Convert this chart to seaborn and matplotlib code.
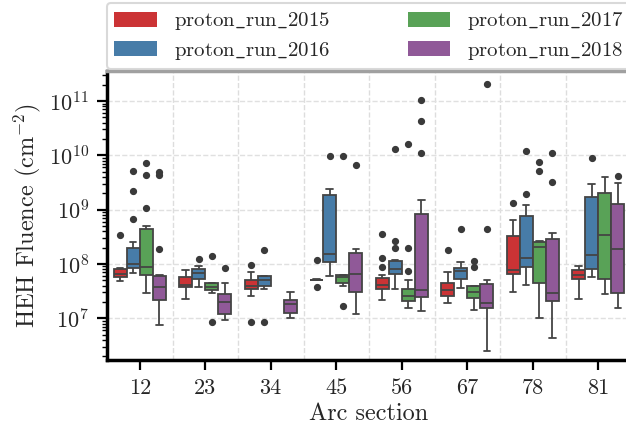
import numpy as np
import pandas as pd
import matplotlib
matplotlib.use("Agg")
import matplotlib.pyplot as plt
import seaborn as sns

arcs = ["12", "23", "34", "45", "56", "67", "78", "81"]
runs = ["proton_run_2015", "proton_run_2016", "proton_run_2017", "proton_run_2018"]

fluence_2015 = {
    "12": [4.9e7, 5.3e7, 5.7e7, 6.1e7, 6.5e7, 7.2e7, 8.0e7, 8.55e7, 3.4e8],
    "23": [2.24e7, 3.7e7, 4.1e7, 5.7e7, 7.7e7],
    "34": [8.65e6, 2.6e7, 3.5e7, 3.75e7, 4.0e7, 4.5e7, 5.05e7, 7.2e7, 9.6e7],
    "45": [3.77e7, 5.0e7, 5.05e7, 5.08e7, 5.12e7, 5.15e7, 5.18e7, 5.2e7, 1.2e8],
    "56": [2.2e7, 2.6e7, 2.9e7, 3.2e7, 3.42e7, 3.6e7, 3.8e7, 4.0e7, 4.16e7,
           4.4e7, 4.8e7, 5.1e7, 5.46e7, 6.3e7, 8.8e7, 1.31e8, 3.52e8],
    "67": [1.94e7, 2.3e7, 2.61e7, 2.95e7, 3.32e7, 3.9e7, 4.42e7, 7.0e7, 1.79e8],
    "78": [3.09e7, 4.8e7, 6.46e7, 7.0e7, 7.74e7, 1.6e8, 3.28e8, 6.46e8, 1.31e9],
    "81": [2.24e7, 5.36e7, 6.27e7, 7.74e7, 9.18e7],
}
fluence_2016 = {
    "12": [6.7e7, 7.3e7, 7.8e7, 8.2e7, 8.6e7, 9.0e7, 9.4e7, 9.8e7, 1.01e8,
           1.2e8, 1.45e8, 1.7e8, 1.95e8, 2.5e8, 6.7e8, 2.2e9, 5.2e9],
    "23": [3.8e7, 4.6e7, 5.4e7, 6.1e7, 6.75e7, 7.4e7, 8.0e7, 9.2e7, 1.22e8],
    "34": [8.65e6, 3.42e7, 4.0e7, 4.6e7, 5.07e7, 5.6e7, 6.0e7, 6.1e7, 1.79e8],
    "45": [6.0e7, 8.5e7, 1.07e8, 1.3e8, 1.51e8, 6.0e8, 1.87e9, 2.4e9, 9.75e9],
    "56": [3.42e7, 4.5e7, 5.3e7, 6.0e7, 6.5e7, 7.0e7, 7.5e7, 7.9e7, 8.18e7,
           9.0e7, 1.0e8, 1.08e8, 1.13e8, 1.19e8, 2.0e8, 2.65e8, 1.29e10],
    "67": [3.61e7, 4.4e7, 5.22e7, 6.5e7, 7.5e7, 7.9e7, 8.34e7, 1.1e8, 4.47e8],
    "78": [4.1e7, 5.5e7, 7.0e7, 8.69e7, 1.0e8, 1.15e8, 1.31e8, 2.5e8, 4.5e8,
           7.76e8, 1.2e9, 1.95e9, 1.2e10],
    "81": [5.69e7, 7.0e7, 8.19e7, 1.1e8, 1.45e8, 6.0e8, 1.73e9, 2.97e9, 9.08e9],
}
fluence_2017 = {
    "12": [2.9e7, 4.0e7, 5.0e7, 5.7e7, 6.3e7, 7.0e7, 7.8e7, 8.4e7, 8.9e7,
           1.5e8, 2.5e8, 3.5e8, 4.35e8, 5.07e8, 1.09e9, 4.3e9, 7.3e9],
    "23": [8.55e6, 2.9e7, 3.3e7, 3.55e7, 3.8e7, 4.1e7, 4.4e7, 4.45e7, 1.4e8],
    "34": [],
    "45": [1.69e7, 3.98e7, 4.45e7, 5.2e7, 5.84e7, 6.0e7, 6.2e7, 6.3e7, 9.9e9],
    "56": [1.53e7, 1.7e7, 1.85e7, 1.95e7, 2.08e7, 2.2e7, 2.35e7, 2.45e7, 2.58e7,
           2.8e7, 3.0e7, 3.3e7, 3.51e7, 5.07e7, 7.5e7, 2.0e8, 1.6e10],
    "67": [1.42e7, 1.8e7, 2.1e7, 2.39e7, 2.6e7, 2.85e7, 3.09e7, 3.4e7, 3.7e7,
           3.94e7, 4.0e7, 8.8e7, 1.12e8],
    "78": [1.0e7, 2.0e7, 3.2e7, 4.53e7, 8.0e7, 1.4e8, 2.03e8, 2.2e8, 2.4e8,
           2.58e8, 2.6e8, 5.1e9, 7.46e9],
    "81": [2.8e7, 5.3e7, 3.42e8, 2.0e9, 4.06e9],
}
fluence_2018 = {
    "12": [7.6e6, 1.2e7, 1.6e7, 1.9e7, 2.17e7, 2.6e7, 3.0e7, 3.4e7, 3.8e7,
           4.4e7, 5.0e7, 5.6e7, 6.0e7, 6.35e7, 1.89e8, 4.35e9, 5.0e9],
    "23": [9.3e6, 1.05e7, 1.19e7, 1.6e7, 2.02e7, 2.4e7, 2.8e7, 4.5e7, 8.3e7],
    "34": [1.03e7, 1.24e7, 1.87e7, 2.17e7, 3.01e7],
    "45": [1.19e7, 2.0e7, 3.01e7, 4.5e7, 6.46e7, 1.0e8, 1.57e8, 1.87e8, 6.6e9],
    "56": [1.38e7, 1.6e7, 1.9e7, 2.2e7, 2.44e7, 2.7e7, 2.9e7, 3.1e7, 3.32e7,
           8.0e7, 2.0e8, 5.0e8, 8.2e8, 1.49e9, 1.09e10, 4.3e10, 1.06e11],
    "67": [2.5e6, 7.0e6, 1.1e7, 1.53e7, 1.7e7, 1.8e7, 1.94e7, 2.6e7, 3.5e7,
           4.29e7, 5.07e7, 4.4e8, 2.09e11],
    "78": [4.4e6, 1.0e7, 1.5e7, 2.08e7, 2.4e7, 2.7e7, 2.96e7, 8.0e7, 1.8e8,
           2.85e8, 3.67e8, 3.28e9, 1.12e10],
    "81": [1.53e7, 2.2e7, 2.88e7, 8.0e7, 1.91e8, 7.0e8, 1.26e9, 3.06e9, 4.12e9],
}
legend_labels = [r"$\mathrm{proton\_run\_2015}$", r"$\mathrm{proton\_run\_2016}$",
                 r"$\mathrm{proton\_run\_2017}$", r"$\mathrm{proton\_run\_2018}$"]

rows = []
for run, table in zip(runs, [fluence_2015, fluence_2016, fluence_2017, fluence_2018]):
    for arc in arcs:
        for v in table[arc]:
            rows.append({"arc": arc, "run": run, "fluence": v})
df = pd.DataFrame(rows)

sns.set_style("whitegrid")
plt.rcParams["font.family"] = "serif"
plt.rcParams["font.serif"] = ["cmr10"]
plt.rcParams["mathtext.fontset"] = "cm"
plt.rcParams["axes.formatter.use_mathtext"] = True
plt.rcParams["axes.unicode_minus"] = False

fig = plt.figure(figsize=(6.26, 4.32), dpi=100)
ax = fig.add_axes([107 / 626, 1 - 360 / 432, (631 - 107) / 626, (360 - 71) / 432])

sns.boxplot(data=df, x="arc", y="fluence", hue="run", order=arcs, hue_order=runs,
            palette="Set1", ax=ax, linewidth=1.3, linecolor="#444444",
            flierprops=dict(marker="o", markerfacecolor="#3a3a3a",
                            markeredgecolor="#3a3a3a", markersize=4.2))
ax.set_yscale("log")
ax.set_ylim(1.71e6, 3.57e11)
ax.set_xlim(-0.5, 7.5)

ax.set_axisbelow(True)
ax.grid(False)
ax.set_xticks(np.arange(-0.5, 8, 1), minor=True)
ax.grid(which="minor", axis="x", ls="--", color="#dddddd", lw=1)
ax.grid(which="major", axis="y", ls="--", color="#e0e0e0", lw=1)
ax.tick_params(axis="x", which="minor", length=0)
ax.tick_params(axis="both", which="major", direction="out", length=7, width=1.6,
               color="black", labelsize=16, left=True, bottom=True, pad=6)
ax.tick_params(axis="y", which="minor", direction="out", length=3.5, width=1.0,
               color="black", left=True)

for side in ["left", "bottom"]:
    ax.spines[side].set_color("black")
    ax.spines[side].set_linewidth(2.5)
ax.spines["top"].set_color("#a0a0a0")
ax.spines["top"].set_linewidth(2.5)

ax.set_xlabel("Arc section", fontsize=17.5)
ax.set_ylabel(r"HEH Fluence (cm$^{-2}$)", fontsize=17.5)

handles, _ = ax.get_legend_handles_labels()
leg = ax.legend(handles, legend_labels, loc="lower left",
                bbox_to_anchor=(0, 1.007, 1, 0.221), mode="expand", ncol=2,
                borderaxespad=0, fontsize=15, frameon=True, fancybox=True,
                edgecolor="#d0d0d0", labelspacing=0.35, borderpad=0.35,
                handlelength=2.05, handleheight=0.72)
leg.get_frame().set_linewidth(1.5)
for h in leg.legend_handles:
    h.set_linewidth(0)
    h.set_edgecolor("none")

fig.savefig("out.png", dpi=100)
